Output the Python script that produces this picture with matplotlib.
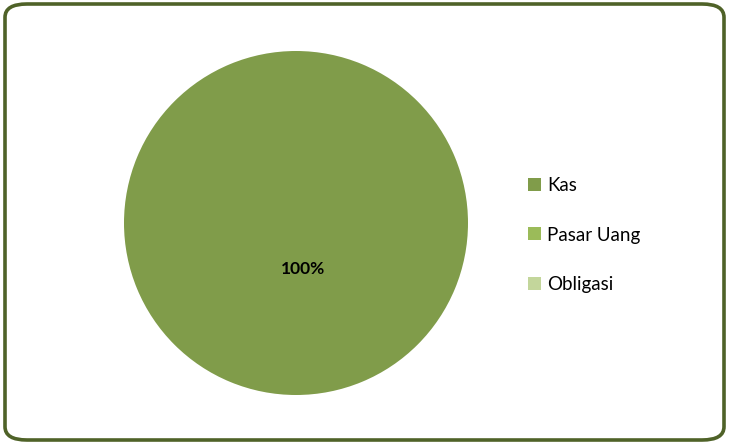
import matplotlib
matplotlib.use('Agg')
import matplotlib.pyplot as plt
from matplotlib.patches import FancyBboxPatch

# data
labels = ["Kas", "Pasar Uang", "Obligasi"]
values = [100, 0, 0]
colors = ["#809c4a", "#9bbb59", "#c3d69b"]

plt.rcParams['font.family'] = ['Lato', 'DejaVu Sans']

W, H = 731, 443
fig = plt.figure(figsize=(W / 100, H / 100), dpi=100)

# rounded outer border
border = FancyBboxPatch((5 / W, 3 / H), (W - 12) / W, (H - 7) / H,
                        boxstyle="round,pad=0,rounding_size=0.03",
                        transform=fig.transFigure, facecolor="white",
                        edgecolor="#4f6228", linewidth=2.6, zorder=-1)
fig.patches.append(border)

cx, cy, r = 296, 223, 172
ax = fig.add_axes([(cx - r) / W, (H - cy - r) / H, 2 * r / W, 2 * r / H])


def pct_fmt(p):
    return f"{p:.0f}%" if p > 0 else ""


wedges, texts, autotexts = ax.pie(values, colors=colors, startangle=90,
                                  counterclock=False, autopct=pct_fmt,
                                  pctdistance=0.27,
                                  wedgeprops=dict(linewidth=0))
for t in autotexts:
    t.set_fontsize(12.5)
    t.set_fontweight('bold')
    t.set_color('black')
    t.set_position((0.04, -0.27))
ax.set_xlim(-1, 1)
ax.set_ylim(-1, 1)
ax.set_aspect('equal')
ax.axis('off')

fig.legend(wedges, labels, loc='center left',
           bbox_to_anchor=(511 / W, 1 - 235 / H), frameon=False,
           fontsize=13.5, labelspacing=1.72, handlelength=0.68,
           handleheight=0.68, handletextpad=0.35)

fig.savefig("out.png", dpi=100)
